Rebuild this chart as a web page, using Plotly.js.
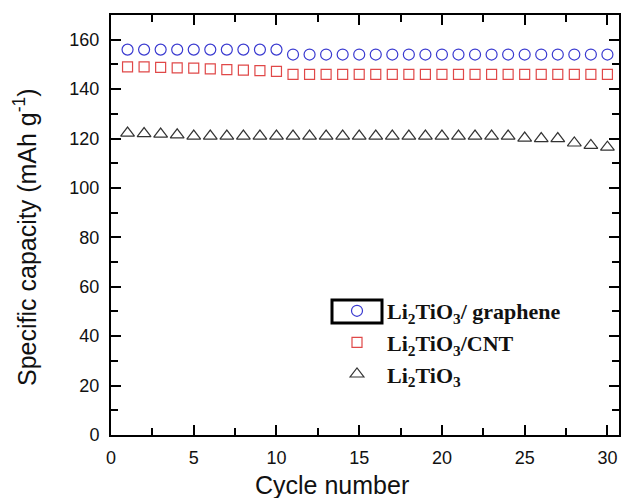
<!DOCTYPE html>
<html><head><meta charset="utf-8">
<script src="https://cdn.plot.ly/plotly-3.0.1.min.js"></script>
<style>html,body{margin:0;padding:0;background:#fff;}#chart{width:621px;height:498px;}</style>
</head><body><div id="chart"></div>
<script>
const cycles = [1,2,3,4,5,6,7,8,9,10,11,12,13,14,15,16,17,18,19,20,21,22,23,24,25,26,27,28,29,30];
const graphene = [156,156,156,156,156,156,156,156,156,156,154,154,154,154,154,154,154,154,154,154,154,154,154,154,154,154,154,154,154,154];
const cnt = [149,149,148.8,148.6,148.5,148.2,147.9,147.7,147.5,147.2,146,146,146,146,146,146,146,146,146,146,146,146,146,146,146,146,146,146,146,146];
const pure = [122.2,122,121.8,121.5,121,121,121,121,121,121,121,121,121,121,121,121,121,121,121,121,121,121,121,121,120.2,120,120,118.2,117.2,116.5];
const names = ['Li<sub>2</sub>TiO<sub>3</sub>/ graphene','Li<sub>2</sub>TiO<sub>3</sub>/CNT','Li<sub>2</sub>TiO<sub>3</sub>'];
const xTitle = 'Cycle number';
const yTitle = 'Specific capacity (mAh g<sup>-1</sup>)';

const traces = [
  {x: cycles, y: graphene, name: names[0], mode: 'markers', type: 'scatter',
   marker: {symbol: 'circle-open', size: 11, color: '#3a3ad0', line: {width: 1.2}}},
  {x: cycles, y: cnt, name: names[1], mode: 'markers', type: 'scatter',
   marker: {symbol: 'square-open', size: 10, color: '#e04848', line: {width: 1.2}}},
  {x: cycles, y: pure, name: names[2], mode: 'markers', type: 'scatter',
   marker: {symbol: 'triangle-up-open', size: 12, color: '#333333', line: {width: 1.2}}}
];

const axisCommon = {
  showline: true, linecolor: '#000', linewidth: 2, mirror: 'allticks',
  ticks: 'inside', ticklen: 10, tickwidth: 2, tickcolor: '#000',
  showgrid: false, zeroline: false,
  tickfont: {family: 'Liberation Sans, Arial, sans-serif', size: 18, color: '#111'}
};
const titleFont = {family: 'Liberation Sans, Arial, sans-serif', size: 25, color: '#111'};

const layout = {
  width: 621, height: 498,
  margin: {l: 111, r: 2, t: 15, b: 63},
  paper_bgcolor: '#fff', plot_bgcolor: '#fff',
  showlegend: true,
  xaxis: Object.assign({}, axisCommon, {
    range: [0, 30.7], tick0: 0, dtick: 5, ticklabelstandoff: 5,
    minor: {dtick: 2.5, ticks: 'inside', ticklen: 7, tickwidth: 2, tickcolor: '#000'}
  }),
  yaxis: Object.assign({}, axisCommon, {
    range: [0, 170], tick0: 0, dtick: 20, ticklabelstandoff: 6,
    minor: {dtick: 10, ticks: 'inside', ticklen: 7, tickwidth: 2, tickcolor: '#000'}
  }),
  annotations: [
    {text: xTitle, xref: 'paper', yref: 'paper', x: (332-111)/508, y: (435-485)/420,
     xanchor: 'center', yanchor: 'middle', showarrow: false, font: titleFont},
    {text: yTitle, xref: 'paper', yref: 'paper', x: (25-111)/508, y: (435-237)/420,
     xanchor: 'center', yanchor: 'middle', textangle: -90, showarrow: false, font: titleFont}
  ],
  legend: {
    x: (327-111)/508, y: (435-290)/420, xanchor: 'left', yanchor: 'top',
    itemwidth: 50, bgcolor: 'rgba(0,0,0,0)',
    font: {family: 'Liberation Serif, Times New Roman, serif', size: 22, color: '#111', weight: 'bold'}
  },
  shapes: [
    {type: 'rect', xref: 'paper', yref: 'paper',
     x0: (332-111)/508, x1: (382-111)/508, y0: (435-300)/420, y1: (435-323)/420,
     line: {color: '#000', width: 3}}
  ]
};

Plotly.newPlot('chart', traces, layout, {displayModeBar: false, staticPlot: true});
</script></body></html>
